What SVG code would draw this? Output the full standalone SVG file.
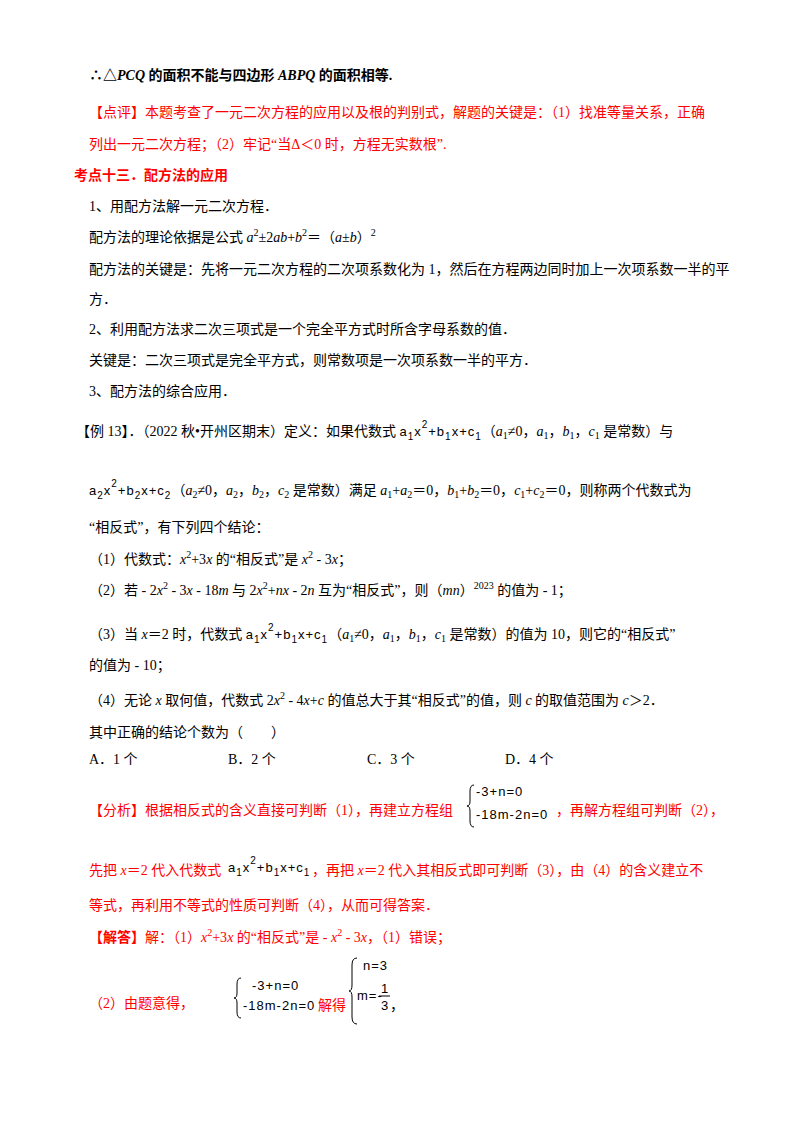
<svg xmlns="http://www.w3.org/2000/svg" width="800" height="1132" viewBox="0 0 800 1132">
<style>
text{font-family:"Liberation Serif","Noto Sans CJK SC",serif;font-size:14px;fill:#000}
.r{fill:#ff0000}
.b{font-weight:bold}
.i{font-style:italic}
.f{font-family:"Liberation Sans","Noto Sans CJK SC",sans-serif;font-size:13px;letter-spacing:1px}
.s{font-size:10px}
</style>
<rect width="800" height="1132" fill="#fff"/>
<text x="89" y="80" class="b">∴△<tspan class="i">PCQ</tspan> 的面积不能与四边形 <tspan class="i">ABPQ</tspan> 的面积相等.</text>
<text x="89" y="117" class="r">【点评】本题考查了一元二次方程的应用以及根的判别式，解题的关键是：（1）找准等量关系，正确</text>
<text x="89" y="149" class="r">列出一元二次方程；（2）牢记“当Δ＜0 时，方程无实数根”.</text>
<text x="74" y="180" class="r b">考点十三．配方法的应用</text>
<text x="89" y="211">1、用配方法解一元二次方程．</text>
<text x="89" y="242">配方法的理论依据是公式 <tspan class="i">a</tspan><tspan class="s" dy="-6">2</tspan><tspan dy="6">±2</tspan><tspan class="i">ab</tspan>+<tspan class="i">b</tspan><tspan class="s" dy="-6">2</tspan><tspan dy="6">＝（</tspan><tspan class="i">a</tspan>±<tspan class="i">b</tspan>）<tspan class="s" dy="-6">2</tspan></text>
<text x="89" y="274">配方法的关键是：先将一元二次方程的二次项系数化为 1，然后在方程两边同时加上一次项系数一半的平</text>
<text x="89" y="304">方．</text>
<text x="89" y="334">2、利用配方法求二次三项式是一个完全平方式时所含字母系数的值．</text>
<text x="89" y="365">关键是：二次三项式是完全平方式，则常数项是一次项系数一半的平方．</text>
<text x="89" y="396">3、配方法的综合应用．</text>
<text x="76" y="436">【例 13】．（2022 秋•开州区期末）定义：如果代数式 <tspan class="f">a<tspan class="s" dy="4">1</tspan><tspan dy="-4">x</tspan><tspan class="s" dy="-8">2</tspan><tspan dy="8">+b</tspan><tspan class="s" dy="4">1</tspan><tspan dy="-4">x+c</tspan><tspan class="s" dy="4">1</tspan></tspan><tspan dy="-4">（</tspan><tspan class="i">a</tspan><tspan class="s" dy="3">1</tspan><tspan dy="-3">≠0，</tspan><tspan class="i">a</tspan><tspan class="s" dy="3">1</tspan><tspan dy="-3">，</tspan><tspan class="i">b</tspan><tspan class="s" dy="3">1</tspan><tspan dy="-3">，</tspan><tspan class="i">c</tspan><tspan class="s" dy="3">1</tspan><tspan dy="-3"> 是常数）与</tspan></text>
<text x="89" y="495"><tspan class="f">a<tspan class="s" dy="4">2</tspan><tspan dy="-4">x</tspan><tspan class="s" dy="-8">2</tspan><tspan dy="8">+b</tspan><tspan class="s" dy="4">2</tspan><tspan dy="-4">x+c</tspan><tspan class="s" dy="4">2</tspan></tspan><tspan dy="-4">（</tspan><tspan class="i">a</tspan><tspan class="s" dy="3">2</tspan><tspan dy="-3">≠0，</tspan><tspan class="i">a</tspan><tspan class="s" dy="3">2</tspan><tspan dy="-3">，</tspan><tspan class="i">b</tspan><tspan class="s" dy="3">2</tspan><tspan dy="-3">，</tspan><tspan class="i">c</tspan><tspan class="s" dy="3">2</tspan><tspan dy="-3"> 是常数）满足 </tspan><tspan class="i">a</tspan><tspan class="s" dy="3">1</tspan><tspan dy="-3">+</tspan><tspan class="i">a</tspan><tspan class="s" dy="3">2</tspan><tspan dy="-3">＝0，</tspan><tspan class="i">b</tspan><tspan class="s" dy="3">1</tspan><tspan dy="-3">+</tspan><tspan class="i">b</tspan><tspan class="s" dy="3">2</tspan><tspan dy="-3">＝0，</tspan><tspan class="i">c</tspan><tspan class="s" dy="3">1</tspan><tspan dy="-3">+</tspan><tspan class="i">c</tspan><tspan class="s" dy="3">2</tspan><tspan dy="-3">＝0，则称两个代数式为</tspan></text>
<text x="89" y="532">“相反式”，有下列四个结论：</text>
<text x="89" y="564">（1）代数式：<tspan class="i">x</tspan><tspan class="s" dy="-6">2</tspan><tspan dy="6">+3</tspan><tspan class="i">x</tspan> 的“相反式”是 <tspan class="i">x</tspan><tspan class="s" dy="-6">2</tspan><tspan dy="6"> - 3</tspan><tspan class="i">x</tspan>；</text>
<text x="89" y="595">（2）若 - 2<tspan class="i">x</tspan><tspan class="s" dy="-6">2</tspan><tspan dy="6"> - 3</tspan><tspan class="i">x</tspan> - 18<tspan class="i">m</tspan> 与 2<tspan class="i">x</tspan><tspan class="s" dy="-6">2</tspan><tspan dy="6">+</tspan><tspan class="i">nx</tspan> - 2<tspan class="i">n</tspan> 互为“相反式”，则（<tspan class="i">mn</tspan>）<tspan class="s" dy="-6">2023</tspan><tspan dy="6"> 的值为 - 1；</tspan></text>
<text x="89" y="639">（3）当 <tspan class="i">x</tspan>＝2 时，代数式 <tspan class="f">a<tspan class="s" dy="4">1</tspan><tspan dy="-4">x</tspan><tspan class="s" dy="-8">2</tspan><tspan dy="8">+b</tspan><tspan class="s" dy="4">1</tspan><tspan dy="-4">x+c</tspan><tspan class="s" dy="4">1</tspan></tspan><tspan dy="-4">（</tspan><tspan class="i">a</tspan><tspan class="s" dy="3">1</tspan><tspan dy="-3">≠0，</tspan><tspan class="i">a</tspan><tspan class="s" dy="3">1</tspan><tspan dy="-3">，</tspan><tspan class="i">b</tspan><tspan class="s" dy="3">1</tspan><tspan dy="-3">，</tspan><tspan class="i">c</tspan><tspan class="s" dy="3">1</tspan><tspan dy="-3"> 是常数）的值为 10，则它的“相反式”</tspan></text>
<text x="89" y="670">的值为 - 10；</text>
<text x="89" y="705">（4）无论 <tspan class="i">x</tspan> 取何值，代数式 2<tspan class="i">x</tspan><tspan class="s" dy="-6">2</tspan><tspan dy="6"> - 4</tspan><tspan class="i">x</tspan>+<tspan class="i">c</tspan> 的值总大于其“相反式”的值，则 <tspan class="i">c</tspan> 的取值范围为 <tspan class="i">c</tspan>＞2．</text>
<text x="89" y="737">其中正确的结论个数为（　　）</text>
<text x="89" y="764">A．1 个</text>
<text x="228" y="764">B．2 个</text>
<text x="367" y="764">C．3 个</text>
<text x="505" y="764">D．4 个</text>
<text x="89" y="815" class="r">【分析】根据相反式的含义直接可判断（1），再建立方程组</text>
<path d="M474 785 q-4 0 -4 6 v10 q0 5 -3 5 q3 0 3 5 v10 q0 6 4 6" fill="none" stroke="#000"/>
<text x="476" y="796" class="f">-3+n=0</text>
<text x="476" y="819" class="f">-18m-2n=0</text>
<text x="556" y="815" class="r">，再解方程组可判断（2），</text>
<text x="89" y="875" class="r">先把 <tspan class="i">x</tspan>＝2 代入代数式</text>
<text x="228" y="872" class="f">a<tspan class="s" dy="4">1</tspan><tspan dy="-4">x</tspan><tspan class="s" dy="-8">2</tspan><tspan dy="8">+b</tspan><tspan class="s" dy="4">1</tspan><tspan dy="-4">x+c</tspan><tspan class="s" dy="4">1</tspan></text>
<text x="312" y="875" class="r">，再把 <tspan class="i">x</tspan>＝2 代入其相反式即可判断（3），由（4）的含义建立不</text>
<text x="89" y="910" class="r">等式，再利用不等式的性质可判断（4），从而可得答案．</text>
<text x="89" y="942"><tspan class="r b">【解答】</tspan><tspan class="r">解：（1）</tspan><tspan class="r i">x</tspan><tspan class="r s" dy="-6">2</tspan><tspan class="r" dy="6">+3</tspan><tspan class="r i">x</tspan><tspan class="r"> 的“相反式”是 - </tspan><tspan class="r i">x</tspan><tspan class="r s" dy="-6">2</tspan><tspan class="r" dy="6"> - 3</tspan><tspan class="r i">x</tspan><tspan class="r">，（1）错误；</tspan></text>
<text x="89" y="1008" class="r">（2）由题意得，</text>
<path d="M241 978 q-4 0 -4 6 v9 q0 5 -3 5 q3 0 3 5 v9 q0 6 4 6" fill="none" stroke="#000"/>
<text x="252" y="990" class="f">-3+n=0</text>
<text x="243" y="1010" class="f">-18m-2n=0</text>
<text x="318" y="1010" class="r">解得</text>
<path d="M357 958 q-5 0 -5 7 v20 q0 6 -3 6 q3 0 3 6 v20 q0 7 5 7" fill="none" stroke="#000"/>
<text x="363" y="970" class="f">n=3</text>
<text x="357" y="1000" class="f">m=-</text>
<text x="381" y="993" class="f">1</text>
<line x1="379" y1="996" x2="390" y2="996" stroke="#000"/>
<text x="381" y="1010" class="f">3</text>
<text x="390" y="1010">，</text>
</svg>
